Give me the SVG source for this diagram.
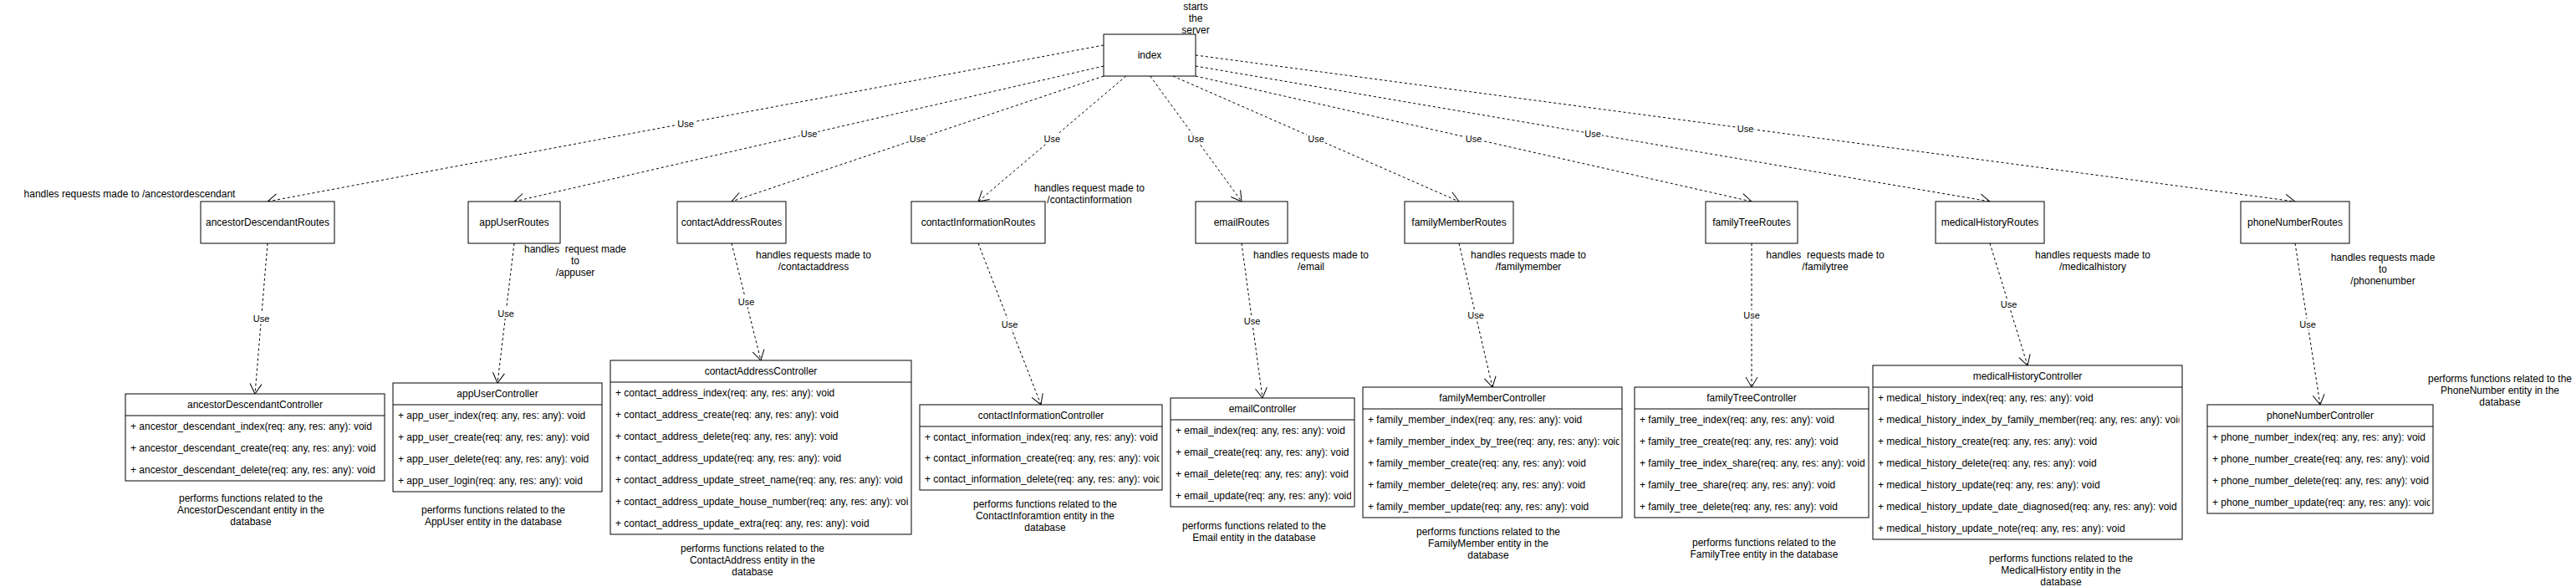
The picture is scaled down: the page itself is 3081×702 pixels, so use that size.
<svg xmlns="http://www.w3.org/2000/svg" width="3081" height="702" viewBox="0 0 3081 702">
<style>
.bg{fill:#fff}
.box{fill:#fff;stroke:#000;stroke-width:1}
.sep{stroke:#000;stroke-width:1}
.t{font-family:"Liberation Sans",Arial,Helvetica,sans-serif;font-size:12px;fill:#000}
.c{text-anchor:middle}
.edge{fill:none;stroke:#000;stroke-width:1;stroke-dasharray:3 3;marker-end:url(#open)}
.lbl{font-family:"Liberation Sans",Arial,Helvetica,sans-serif;font-size:11px;fill:#000;text-anchor:middle}
.lblbg{fill:#fff}
</style>
<defs>
<marker id="open" markerWidth="16" markerHeight="16" refX="13" refY="8" orient="auto" markerUnits="userSpaceOnUse">
<path d="M1,1 L13,8 L1,15" fill="none" stroke="#000" stroke-width="1" stroke-dasharray="none"/>
</marker>
<clipPath id="cpAD"><rect x="0" y="0" width="306" height="104"/></clipPath>
<clipPath id="cpAU"><rect x="0" y="0" width="246" height="130"/></clipPath>
<clipPath id="cpCA"><rect x="0" y="0" width="356" height="208"/></clipPath>
<clipPath id="cpCI"><rect x="0" y="0" width="286.5" height="102"/></clipPath>
<clipPath id="cpEM"><rect x="0" y="0" width="216" height="130"/></clipPath>
<clipPath id="cpFM"><rect x="0" y="0" width="306.5" height="156"/></clipPath>
<clipPath id="cpFT"><rect x="0" y="0" width="276.5" height="156"/></clipPath>
<clipPath id="cpMH"><rect x="0" y="0" width="366.5" height="208"/></clipPath>
<clipPath id="cpPN"><rect x="0" y="0" width="266.5" height="130"/></clipPath>
</defs>
<rect class="bg" x="0" y="0" width="3081" height="702"/>

<g id="connectors">
<path class="edge" d="M1320,54 L320,241"/>
<path class="edge" d="M1320,79 L615,241"/>
<path class="edge" d="M1320,91 L875,241"/>
<path class="edge" d="M1346.7,91 L1170,241"/>
<path class="edge" d="M1375.7,91 L1485,241"/>
<path class="edge" d="M1403,91 L1745,241"/>
<path class="edge" d="M1430,91 L2095,241"/>
<path class="edge" d="M1430,79 L2380,241"/>
<path class="edge" d="M1430,66 L2745,241"/>
<path class="edge" d="M320,291 L305,471"/>
<path class="edge" d="M615,291 L595,458"/>
<path class="edge" d="M875,291 L910,431"/>
<path class="edge" d="M1170,291 L1245,484"/>
<path class="edge" d="M1485,291 L1510,476"/>
<path class="edge" d="M1745,291 L1785,463"/>
<path class="edge" d="M2095,291 L2095,463"/>
<path class="edge" d="M2380,291 L2425,437"/>
<path class="edge" d="M2745,291 L2775,484"/>
<g id="edge-labels">
<rect class="lblbg" x="809" y="141" width="22" height="13"/><text class="lbl" x="820" y="151.5">Use</text>
<rect class="lblbg" x="956.5" y="153.5" width="22" height="13"/><text class="lbl" x="967.5" y="164">Use</text>
<rect class="lblbg" x="1086.5" y="159.5" width="22" height="13"/><text class="lbl" x="1097.5" y="170">Use</text>
<rect class="lblbg" x="1247.3" y="159.5" width="22" height="13"/><text class="lbl" x="1258.3" y="170">Use</text>
<rect class="lblbg" x="1419.3" y="159.5" width="22" height="13"/><text class="lbl" x="1430.3" y="170">Use</text>
<rect class="lblbg" x="1563" y="159.5" width="22" height="13"/><text class="lbl" x="1574" y="170">Use</text>
<rect class="lblbg" x="1751.5" y="159.5" width="22" height="13"/><text class="lbl" x="1762.5" y="170">Use</text>
<rect class="lblbg" x="1894" y="153.5" width="22" height="13"/><text class="lbl" x="1905" y="164">Use</text>
<rect class="lblbg" x="2076.5" y="147" width="22" height="13"/><text class="lbl" x="2087.5" y="157.5">Use</text>
<rect class="lblbg" x="301.5" y="374.5" width="22" height="13"/><text class="lbl" x="312.5" y="385">Use</text>
<rect class="lblbg" x="594" y="368" width="22" height="13"/><text class="lbl" x="605" y="378.5">Use</text>
<rect class="lblbg" x="881.5" y="354.5" width="22" height="13"/><text class="lbl" x="892.5" y="365">Use</text>
<rect class="lblbg" x="1196.5" y="381" width="22" height="13"/><text class="lbl" x="1207.5" y="391.5">Use</text>
<rect class="lblbg" x="1486.5" y="377" width="22" height="13"/><text class="lbl" x="1497.5" y="387.5">Use</text>
<rect class="lblbg" x="1754" y="370.5" width="22" height="13"/><text class="lbl" x="1765" y="381">Use</text>
<rect class="lblbg" x="2084" y="370.5" width="22" height="13"/><text class="lbl" x="2095" y="381">Use</text>
<rect class="lblbg" x="2391.5" y="357.5" width="22" height="13"/><text class="lbl" x="2402.5" y="368">Use</text>
<rect class="lblbg" x="2749" y="381" width="22" height="13"/><text class="lbl" x="2760" y="391.5">Use</text>
</g>
</g>

<g id="index">
<rect class="box" x="1320" y="41" width="110" height="50"/>
<text class="t c" x="1375" y="70">index</text>
</g>
<g id="note-index">
<text class="t c" x="1430"><tspan x="1430" y="12">starts</tspan><tspan x="1430" y="26">the</tspan><tspan x="1430" y="40">server</tspan></text>
</g>

<g id="ancestorDescendantRoutes">
<rect class="box" x="240" y="241" width="160" height="50"/>
<text class="t c" x="320" y="270">ancestorDescendantRoutes</text>
</g>
<g id="appUserRoutes">
<rect class="box" x="560" y="241" width="110" height="50"/>
<text class="t c" x="615" y="270">appUserRoutes</text>
</g>
<g id="contactAddressRoutes">
<rect class="box" x="810" y="241" width="130" height="50"/>
<text class="t c" x="875" y="270">contactAddressRoutes</text>
</g>
<g id="contactInformationRoutes">
<rect class="box" x="1090" y="241" width="160" height="50"/>
<text class="t c" x="1170" y="270">contactInformationRoutes</text>
</g>
<g id="emailRoutes">
<rect class="box" x="1430" y="241" width="110" height="50"/>
<text class="t c" x="1485" y="270">emailRoutes</text>
</g>
<g id="familyMemberRoutes">
<rect class="box" x="1680" y="241" width="130" height="50"/>
<text class="t c" x="1745" y="270">familyMemberRoutes</text>
</g>
<g id="familyTreeRoutes">
<rect class="box" x="2040" y="241" width="110" height="50"/>
<text class="t c" x="2095" y="270">familyTreeRoutes</text>
</g>
<g id="medicalHistoryRoutes">
<rect class="box" x="2315" y="241" width="130" height="50"/>
<text class="t c" x="2380" y="270">medicalHistoryRoutes</text>
</g>
<g id="phoneNumberRoutes">
<rect class="box" x="2680" y="241" width="130" height="50"/>
<text class="t c" x="2745" y="270">phoneNumberRoutes</text>
</g>

<g id="notes-routes">
<text class="t c" x="155" y="236">handles requests made to /ancestordescendant</text>
<text class="t c" xml:space="preserve"><tspan x="688" y="302">handles  request made</tspan><tspan x="688" y="316">to</tspan><tspan x="688" y="330">/appuser</tspan></text>
<text class="t c"><tspan x="973" y="309">handles requests made to</tspan><tspan x="973" y="323">/contactaddress</tspan></text>
<text class="t c"><tspan x="1303" y="229">handles request made to</tspan><tspan x="1303" y="243">/contactinformation</tspan></text>
<text class="t c"><tspan x="1568" y="309">handles requests made to</tspan><tspan x="1568" y="323">/email</tspan></text>
<text class="t c"><tspan x="1828" y="309">handles requests made to</tspan><tspan x="1828" y="323">/familymember</tspan></text>
<text class="t c" xml:space="preserve"><tspan x="2183" y="309">handles  requests made to</tspan><tspan x="2183" y="323">/familytree</tspan></text>
<text class="t c"><tspan x="2503" y="309">handles requests made to</tspan><tspan x="2503" y="323">/medicalhistory</tspan></text>
<text class="t c"><tspan x="2850" y="312">handles requests made</tspan><tspan x="2850" y="326">to</tspan><tspan x="2850" y="340">/phonenumber</tspan></text>
</g>

<g id="ancestorDescendantController" transform="translate(150,471)">
<rect class="box" x="0" y="0" width="310" height="104"/>
<line class="sep" x1="0" y1="26" x2="310" y2="26"/>
<text class="t c" x="155" y="17">ancestorDescendantController</text>
<g clip-path="url(#cpAD)">
<text class="t" x="6" y="43">+ ancestor_descendant_index(req: any, res: any): void</text>
<text class="t" x="6" y="69">+ ancestor_descendant_create(req: any, res: any): void</text>
<text class="t" x="6" y="95">+ ancestor_descendant_delete(req: any, res: any): void</text>
</g>
</g>

<g id="appUserController" transform="translate(470,458)">
<rect class="box" x="0" y="0" width="250" height="130"/>
<line class="sep" x1="0" y1="26" x2="250" y2="26"/>
<text class="t c" x="125" y="17">appUserController</text>
<g clip-path="url(#cpAU)">
<text class="t" x="6" y="43">+ app_user_index(req: any, res: any): void</text>
<text class="t" x="6" y="69">+ app_user_create(req: any, res: any): void</text>
<text class="t" x="6" y="95">+ app_user_delete(req: any, res: any): void</text>
<text class="t" x="6" y="121">+ app_user_login(req: any, res: any): void</text>
</g>
</g>

<g id="contactAddressController" transform="translate(730,431)">
<rect class="box" x="0" y="0" width="360" height="208"/>
<line class="sep" x1="0" y1="26" x2="360" y2="26"/>
<text class="t c" x="180" y="17">contactAddressController</text>
<g clip-path="url(#cpCA)">
<text class="t" x="6" y="43">+ contact_address_index(req: any, res: any): void</text>
<text class="t" x="6" y="69">+ contact_address_create(req: any, res: any): void</text>
<text class="t" x="6" y="95">+ contact_address_delete(req: any, res: any): void</text>
<text class="t" x="6" y="121">+ contact_address_update(req: any, res: any): void</text>
<text class="t" x="6" y="147">+ contact_address_update_street_name(req: any, res: any): void</text>
<text class="t" x="6" y="173">+ contact_address_update_house_number(req: any, res: any): void</text>
<text class="t" x="6" y="199">+ contact_address_update_extra(req: any, res: any): void</text>
</g>
</g>

<g id="contactInformationController" transform="translate(1100,484)">
<rect class="box" x="0" y="0" width="290" height="102"/>
<line class="sep" x1="0" y1="26" x2="290" y2="26"/>
<text class="t c" x="145" y="17">contactInformationController</text>
<g clip-path="url(#cpCI)">
<text class="t" x="6" y="42.7">+ contact_information_index(req: any, res: any): void</text>
<text class="t" x="6" y="68">+ contact_information_create(req: any, res: any): void</text>
<text class="t" x="6" y="93.3">+ contact_information_delete(req: any, res: any): void</text>
</g>
</g>

<g id="emailController" transform="translate(1400,476)">
<rect class="box" x="0" y="0" width="220" height="130"/>
<line class="sep" x1="0" y1="26" x2="220" y2="26"/>
<text class="t c" x="110" y="17">emailController</text>
<g clip-path="url(#cpEM)">
<text class="t" x="6" y="43">+ email_index(req: any, res: any): void</text>
<text class="t" x="6" y="69">+ email_create(req: any, res: any): void</text>
<text class="t" x="6" y="95">+ email_delete(req: any, res: any): void</text>
<text class="t" x="6" y="121">+ email_update(req: any, res: any): void</text>
</g>
</g>

<g id="familyMemberController" transform="translate(1630,463)">
<rect class="box" x="0" y="0" width="310" height="156"/>
<line class="sep" x1="0" y1="26" x2="310" y2="26"/>
<text class="t c" x="155" y="17">familyMemberController</text>
<g clip-path="url(#cpFM)">
<text class="t" x="6" y="43">+ family_member_index(req: any, res: any): void</text>
<text class="t" x="6" y="69">+ family_member_index_by_tree(req: any, res: any): void</text>
<text class="t" x="6" y="95">+ family_member_create(req: any, res: any): void</text>
<text class="t" x="6" y="121">+ family_member_delete(req: any, res: any): void</text>
<text class="t" x="6" y="147">+ family_member_update(req: any, res: any): void</text>
</g>
</g>

<g id="familyTreeController" transform="translate(1955,463)">
<rect class="box" x="0" y="0" width="280" height="156"/>
<line class="sep" x1="0" y1="26" x2="280" y2="26"/>
<text class="t c" x="140" y="17">familyTreeController</text>
<g clip-path="url(#cpFT)">
<text class="t" x="6" y="43">+ family_tree_index(req: any, res: any): void</text>
<text class="t" x="6" y="69">+ family_tree_create(req: any, res: any): void</text>
<text class="t" x="6" y="95">+ family_tree_index_share(req: any, res: any): void</text>
<text class="t" x="6" y="121">+ family_tree_share(req: any, res: any): void</text>
<text class="t" x="6" y="147">+ family_tree_delete(req: any, res: any): void</text>
</g>
</g>

<g id="medicalHistoryController" transform="translate(2240,437)">
<rect class="box" x="0" y="0" width="370" height="208"/>
<line class="sep" x1="0" y1="26" x2="370" y2="26"/>
<text class="t c" x="185" y="17">medicalHistoryController</text>
<g clip-path="url(#cpMH)">
<text class="t" x="6" y="43">+ medical_history_index(req: any, res: any): void</text>
<text class="t" x="6" y="69">+ medical_history_index_by_family_member(req: any, res: any): void</text>
<text class="t" x="6" y="95">+ medical_history_create(req: any, res: any): void</text>
<text class="t" x="6" y="121">+ medical_history_delete(req: any, res: any): void</text>
<text class="t" x="6" y="147">+ medical_history_update(req: any, res: any): void</text>
<text class="t" x="6" y="173">+ medical_history_update_date_diagnosed(req: any, res: any): void</text>
<text class="t" x="6" y="199">+ medical_history_update_note(req: any, res: any): void</text>
</g>
</g>

<g id="phoneNumberController" transform="translate(2640,484)">
<rect class="box" x="0" y="0" width="270" height="130"/>
<line class="sep" x1="0" y1="26" x2="270" y2="26"/>
<text class="t c" x="135" y="17">phoneNumberController</text>
<g clip-path="url(#cpPN)">
<text class="t" x="6" y="43">+ phone_number_index(req: any, res: any): void</text>
<text class="t" x="6" y="69">+ phone_number_create(req: any, res: any): void</text>
<text class="t" x="6" y="95">+ phone_number_delete(req: any, res: any): void</text>
<text class="t" x="6" y="121">+ phone_number_update(req: any, res: any): void</text>
</g>
</g>

<g id="notes-controllers">
<text class="t c"><tspan x="300" y="600">performs functions related to the</tspan><tspan x="300" y="614">AncestorDescendant entity in the</tspan><tspan x="300" y="628">database</tspan></text>
<text class="t c"><tspan x="590" y="614">performs functions related to the</tspan><tspan x="590" y="628">AppUser entity in the database</tspan></text>
<text class="t c"><tspan x="900" y="660">performs functions related to the</tspan><tspan x="900" y="674">ContactAddress entity in the</tspan><tspan x="900" y="688">database</tspan></text>
<text class="t c"><tspan x="1250" y="607">performs functions related to the</tspan><tspan x="1250" y="621">ContactInforamtion entity in the</tspan><tspan x="1250" y="635">database</tspan></text>
<text class="t c"><tspan x="1500" y="633">performs functions related to the</tspan><tspan x="1500" y="647">Email entity in the database</tspan></text>
<text class="t c"><tspan x="1780" y="640">performs functions related to the</tspan><tspan x="1780" y="654">FamilyMember entity in the</tspan><tspan x="1780" y="668">database</tspan></text>
<text class="t c"><tspan x="2110" y="653">performs functions related to the</tspan><tspan x="2110" y="667">FamilyTree entity in the database</tspan></text>
<text class="t c"><tspan x="2465" y="672">performs functions related to the</tspan><tspan x="2465" y="686">MedicalHistory entity in the</tspan><tspan x="2465" y="700">database</tspan></text>
<text class="t c"><tspan x="2990" y="457">performs functions related to the</tspan><tspan x="2990" y="471">PhoneNumber entity in the</tspan><tspan x="2990" y="485">database</tspan></text>
</g>
</svg>
